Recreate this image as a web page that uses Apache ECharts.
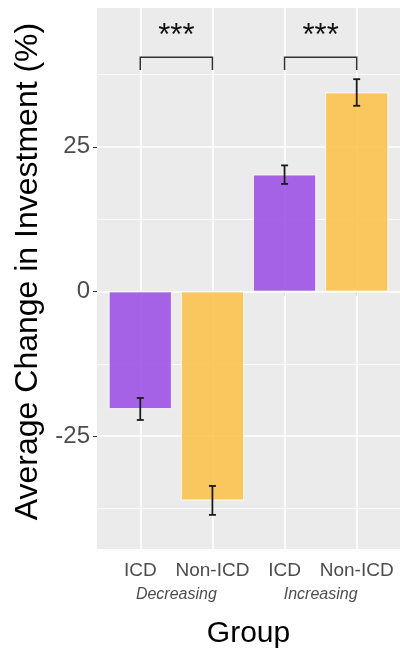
<!DOCTYPE html>
<html><head><meta charset="utf-8">
<script src="https://cdn.jsdelivr.net/npm/echarts@6/dist/echarts.min.js"></script>
<style>html,body{margin:0;padding:0;background:#fff}#c{width:400px;height:654px}</style>
</head><body><div id="c"></div>
<script>
// ---- data ----
const categories = ['ICD', 'Non-ICD', 'ICD', 'Non-ICD'];
const groups = ['Decreasing', 'Increasing'];
const groupOf = [0, 0, 1, 1];
const values = [-20.3, -36.1, 20.2, 34.4];
const errors = [1.9, 2.5, 1.6, 2.3];
const yTicks = [-25, 0, 25];
const yMinor = [-37.5, -12.5, 12.5, 37.5];
const signifPairs = [[1, 2], [3, 4]];
const signifLabels = ['***', '***'];
const bracketTop = [40.5, 40.5];
const bracketBottom = [38.3, 38.3];
const starLevel = [44.0, 44.0];

// ---- styles ----
const FONT = '"Liberation Sans", Arial, Helvetica, sans-serif';
const colorsByType = { 'ICD': 'rgba(157,83,229,0.9)', 'Non-ICD': 'rgba(252,195,79,0.9)' };

const positions = categories.map((c, i) => i + 1);
const groupPos = groups.map((g, gi) => {
  const ps = positions.filter((p, i) => groupOf[i] === gi);
  return ps.reduce((a, b) => a + b, 0) / ps.length;
});

const chart = echarts.init(document.getElementById('c'), null, { renderer: 'canvas' });
const option = {
  animation: false,
  textStyle: { fontFamily: FONT },
  grid: { left: 97, right: 0, top: 8, bottom: 102, show: true, backgroundColor: '#EBEBEB', borderWidth: 0 },
  xAxis: [
    {
      type: 'value', min: 0.4, max: 4.6, position: 'bottom',
      axisLine: { show: false },
      splitLine: { show: false },
      axisTick: { show: true, customValues: positions, length: 4, lineStyle: { color: '#333', width: 1 } },
      axisLabel: { customValues: positions, formatter: v => categories[Math.round(v) - 1], fontSize: 19, color: '#4D4D4D', margin: 12, fontFamily: FONT },
      name: 'Group', nameLocation: 'middle', nameGap: 70,
      nameTextStyle: { fontSize: 30, color: '#000', fontFamily: FONT }
    },
    {
      type: 'value', min: 0.4, max: 4.6, position: 'bottom', gridIndex: 0,
      axisLine: { show: false }, splitLine: { show: false }, axisTick: { show: false },
      axisLabel: { customValues: groupPos, formatter: v => groups[groupPos.indexOf(v)], fontSize: 16, fontStyle: 'italic', color: '#4D4D4D', margin: 38, fontFamily: FONT }
    }
  ],
  yAxis: {
    type: 'value', min: -44.5, max: 49,
    axisLine: { show: false },
    splitLine: { show: false },
    axisTick: { show: true, customValues: yTicks, length: 4, lineStyle: { color: '#333', width: 1 } },
    axisLabel: { customValues: yTicks, fontSize: 24, color: '#4D4D4D', margin: 7, fontFamily: FONT },
    name: 'Average Change in Investment (%)', nameLocation: 'middle', nameGap: 39,
    nameTextStyle: { fontSize: 32, color: '#000', fontFamily: FONT, padding: [0, 0, 0, 14] }
  },
  series: [
    {
      type: 'line', data: [], z: 1, silent: true,
      markLine: {
        z: 1, silent: true, symbol: 'none', label: { show: false }, animation: false,
        lineStyle: { color: '#FFFFFF', type: 'solid', width: 1.6 },
        data: [
          ...yTicks.map(v => ({ yAxis: v, lineStyle: { color: '#fff', type: 'solid', width: 1.6 } })),
          ...yMinor.map(v => ({ yAxis: v, lineStyle: { color: '#fff', type: 'solid', width: 0.8 } })),
          ...positions.map(p => ({ xAxis: p, lineStyle: { color: '#fff', type: 'solid', width: 1.6 } }))
        ]
      }
    },
    {
      type: 'bar', z: 2, barWidth: 63,
      data: positions.map((p, i) => ({ value: [p, values[i]], itemStyle: { color: colorsByType[categories[i]] } })),
      itemStyle: { borderColor: '#fff', borderWidth: 0.8 }
    },
    {
      type: 'custom', z: 6, silent: true,
      data: positions.map((p, i) => [p, values[i], errors[i]]),
      encode: { x: 0, y: 1 },
      renderItem: function (params, api) {
        const x = api.value(0), v = api.value(1), e = api.value(2);
        const t = api.coord([x, v + e]), b = api.coord([x, v - e]);
        const hw = 3.5;
        const st = { stroke: '#1a1a1a', lineWidth: 1.8 };
        return {
          type: 'group', children: [
            { type: 'line', shape: { x1: t[0], y1: t[1], x2: b[0], y2: b[1] }, style: st },
            { type: 'line', shape: { x1: t[0] - hw, y1: t[1], x2: t[0] + hw, y2: t[1] }, style: st },
            { type: 'line', shape: { x1: b[0] - hw, y1: b[1], x2: b[0] + hw, y2: b[1] }, style: st }
          ]
        };
      }
    },
    {
      type: 'custom', z: 6, silent: true,
      data: signifPairs.map((pr, i) => [pr[0], pr[1], bracketTop[i], bracketBottom[i], starLevel[i], i]),
      encode: { x: [0, 1], y: 2 },
      renderItem: function (params, api) {
        const x1 = api.value(0), x2 = api.value(1), yt = api.value(2), yb = api.value(3), ys = api.value(4), idx = api.value(5);
        const p1 = api.coord([x1, yb]), p2 = api.coord([x1, yt]), p3 = api.coord([x2, yt]), p4 = api.coord([x2, yb]);
        const ps = api.coord([(x1 + x2) / 2, ys]);
        return {
          type: 'group', children: [
            { type: 'polyline', shape: { points: [p1, p2, p3, p4] }, style: { stroke: '#333', lineWidth: 1.5, fill: null } },
            { type: 'text', x: ps[0], y: ps[1], style: { text: signifLabels[idx], fontSize: 31, fontFamily: FONT, fill: '#111', align: 'center', verticalAlign: 'middle' } }
          ]
        };
      }
    }
  ]
};
chart.setOption(option);
</script>
</body></html>
